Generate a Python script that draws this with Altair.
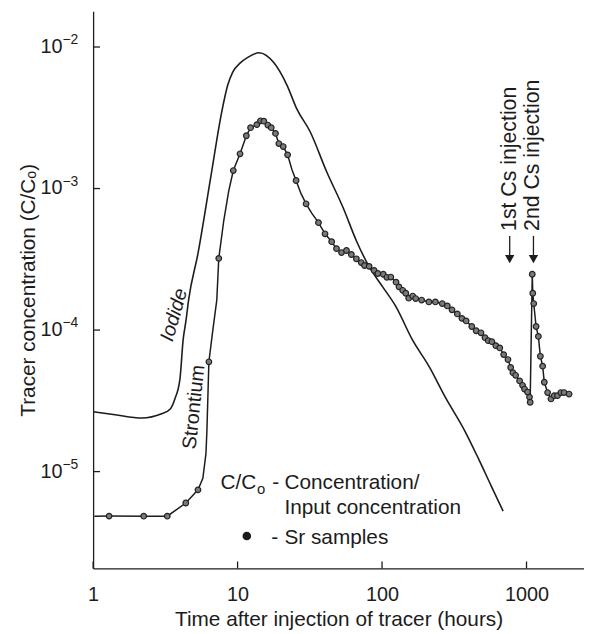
import altair as alt
import pandas as pd

# ---------------- data ----------------
iodide_t = [1.0, 1.42, 2.17, 2.98, 3.42, 3.68, 3.99, 4.20, 4.40, 4.58, 5.32, 6.56, 7.77,
            8.54, 9.24, 10.49, 11.7, 14.1, 17.8, 22.0, 25.7, 31.8, 41.3, 53.8, 66.4,
            81.8, 101, 125, 162, 211, 274, 376, 464, 567, 689]
iodide_c = [2.65e-5, 2.52e-5, 2.39e-5, 2.56e-5, 2.77e-5, 3.26e-5, 4.50e-5, 8.55e-5, 1.18e-4,
            1.63e-4, 3.48e-4, 1.25e-3, 3.48e-3, 5.36e-3, 6.61e-3, 7.76e-3, 8.41e-3, 9.12e-3,
            7.76e-3, 5.36e-3, 3.65e-3, 2.52e-3, 1.32e-3, 7.31e-4, 4.28e-4, 2.78e-4, 2.02e-4,
            1.46e-4, 8.55e-5, 5.56e-5, 3.36e-5, 1.92e-5, 1.24e-5, 8.0e-6, 5.25e-6]

sr_sample_t = [1.29, 2.24, 3.26, 4.38, 5.32, 6.33, 7.41, 9.34, 10.4, 11.5, 12.3, 13.6, 14.4,
               15.2, 16.2, 17.1, 18.3, 19.3, 20.7, 22.2, 25.4, 29.8, 36.3, 40.3, 44.8, 48.4,
               52.4, 56.7, 61.3, 66.4, 71.8, 75.6, 81.4, 88.1, 93.5, 102, 108, 115, 125, 131,
               139, 146, 153, 163, 171, 188, 211, 234, 261, 283, 305, 332, 357, 382, 418, 448,
               484, 516, 543, 576, 613, 653, 695, 744, 777, 805, 841, 896, 939, 969, 1016,
               1049, 1060, 1096, 1105, 1122, 1165, 1208, 1247, 1293, 1328, 1400, 1477, 1556,
               1638, 1729, 1820, 1971]
sr_sample_c = [4.85e-6, 4.84e-6, 4.84e-6, 6.0e-6, 7.43e-6, 5.97e-5, 3.21e-4, 1.34e-3, 1.76e-3,
               2.36e-3, 2.69e-3, 2.83e-3, 3.01e-3, 2.99e-3, 2.81e-3, 2.69e-3, 2.45e-3, 2.08e-3,
               1.98e-3, 1.73e-3, 1.14e-3, 7.80e-4, 5.74e-4, 4.79e-4, 4.21e-4, 3.76e-4, 3.53e-4,
               3.65e-4, 3.42e-4, 3.19e-4, 3.00e-4, 2.86e-4, 2.82e-4, 2.64e-4, 2.51e-4, 2.48e-4,
               2.36e-4, 2.37e-4, 2.18e-4, 2.02e-4, 1.91e-4, 1.82e-4, 1.68e-4, 1.74e-4, 1.67e-4,
               1.63e-4, 1.58e-4, 1.58e-4, 1.54e-4, 1.48e-4, 1.39e-4, 1.30e-4, 1.21e-4, 1.16e-4,
               1.06e-4, 9.89e-5, 9.57e-5, 8.83e-5, 8.41e-5, 8.28e-5, 7.76e-5, 7.48e-5, 6.71e-5,
               6.19e-5, 5.44e-5, 5.00e-5, 4.79e-5, 4.37e-5, 4.07e-5, 3.83e-5, 3.65e-5, 3.36e-5,
               3.09e-5, 2.48e-4, 1.82e-4, 1.54e-4, 1.06e-4, 9.02e-5, 6.53e-5, 5.56e-5, 4.28e-5,
               3.62e-5, 3.26e-5, 3.44e-5, 3.44e-5, 3.62e-5, 3.62e-5, 3.53e-5]

# extra points on the drawn strontium curve that are not samples
sr_curve_t = [1.02, 5.75, 6.04, 6.13, 6.74, 7.18, 8.02, 8.68, 23.8, 27.4, 32.6]
sr_curve_c = [4.84e-6, 8.97e-6, 1.34e-5, 1.91e-5, 1.00e-4, 1.63e-4, 5.92e-4, 9.58e-4,
              1.36e-3, 9.27e-4, 6.71e-4]

x_tick_values = [1, 10, 100, 1000]
y_tick_values = [1e-5, 1e-4, 1e-3, 1e-2]
y_tick_exponents = ["\u22125", "\u22124", "\u22123", "\u22122"]

injection_t = [765, 1117]
injection_labels = ["1st Cs injection", "2nd Cs injection"]

# ---------------- chart ----------------
FONT = "Liberation Sans"
INK = "#1c1c1c"
W, H = 496, 563

xs = alt.Scale(type="log", domain=[1, 2500], nice=False)
ys = alt.Scale(type="log", domain=[2.07e-6, 0.0179], nice=False)

iodide_df = pd.DataFrame({"t": iodide_t, "c": iodide_c})
samples_df = pd.DataFrame({"t": sr_sample_t, "c": sr_sample_c})
sr_line_df = pd.concat([samples_df, pd.DataFrame({"t": sr_curve_t, "c": sr_curve_c})])
sr_line_df = sr_line_df.sort_values("t").reset_index(drop=True)
sr_line_df["order"] = range(len(sr_line_df))

xaxis = alt.Axis(values=x_tick_values, format="d", ticks=False, grid=False,
                 domainColor=INK, domainWidth=1.3, labelFont=FONT, labelFontSize=20,
                 labelColor=INK, labelPadding=16, labelFlush=False,
                 title="Time after injection of tracer (hours)", titleFont=FONT,
                 titleFontSize=21, titleFontWeight="normal", titleColor=INK, titlePadding=5)
yaxis = alt.Axis(values=y_tick_values, labels=False, ticks=False, grid=False,
                 domainColor=INK, domainWidth=1.3,
                 title="Tracer concentration (C/C\u2092)", titleFont=FONT, titleFontSize=21,
                 titleFontWeight="normal", titleColor=INK, titlePadding=55)

X = alt.X("t:Q", scale=xs, axis=xaxis)
Y = alt.Y("c:Q", scale=ys, axis=yaxis)

iodide = alt.Chart(iodide_df).mark_line(color=INK, strokeWidth=1.6, interpolate="monotone").encode(
    x=X, y=Y)

sr_line = alt.Chart(sr_line_df).mark_line(color=INK, strokeWidth=1.5).encode(
    x=X, y=Y, order="order:Q")

sr_pts = alt.Chart(samples_df).mark_point(filled=True, fill="#7a7a7a", stroke="#222222",
                                          strokeWidth=1.2, size=32, opacity=1).encode(x=X, y=Y)

# inward tick marks
xt_df = pd.DataFrame({"t": x_tick_values})
x_ticks = alt.Chart(xt_df).mark_rule(color=INK, strokeWidth=1.3).encode(
    x=X, y=alt.value(H), y2=alt.value(H - 7))
yt_df = pd.DataFrame({"c": y_tick_values, "e": y_tick_exponents})
y_ticks = alt.Chart(yt_df).mark_rule(color=INK, strokeWidth=1.3).encode(
    y=Y, x=alt.value(0), x2=alt.value(7))

# y tick labels 10^n
y_lab_base = alt.Chart(yt_df).mark_text(text="10", align="right", baseline="middle",
                                        font=FONT, fontSize=20, color=INK).encode(
    y=Y, x=alt.value(-31))
y_lab_exp = alt.Chart(yt_df).mark_text(align="left", baseline="middle", dy=-7,
                                       font=FONT, fontSize=14, color=INK).encode(
    y=Y, x=alt.value(-31), text="e:N")

# curve labels
one = pd.DataFrame({"k": [0]})
iod_lab = alt.Chart(one).mark_text(text="Iodide", angle=286, font=FONT, fontSize=20,
                                   fontStyle="italic", color=INK, align="center",
                                   baseline="middle").encode(x=alt.value(82), y=alt.value(307))
sr_lab = alt.Chart(one).mark_text(text="Strontium", angle=276, font=FONT, fontSize=20,
                                  color=INK, align="center",
                                  baseline="middle").encode(x=alt.value(102), y=alt.value(400))

# injection markers
inj_df = pd.DataFrame({"t": injection_t, "label": injection_labels})
inj_text = alt.Chart(inj_df).mark_text(angle=270, align="left", baseline="middle", font=FONT,
                                       fontSize=21.5, color=INK).encode(
    x=X, y=alt.value(222), text="label:N")
inj_rule = alt.Chart(inj_df).mark_rule(color=INK, strokeWidth=1.3).encode(
    x=X, y=alt.value(227), y2=alt.value(247))
inj_head = alt.Chart(inj_df).mark_point(shape="triangle-down", filled=True, fill=INK,
                                        stroke=INK, size=36, opacity=1).encode(
    x=X, y=alt.value(250))

# key text
def txt(s, x, y, size=21, dy=0):
    return alt.Chart(one).mark_text(text=s, align="left", baseline="alphabetic", font=FONT,
                                    fontSize=size, color=INK, dy=dy).encode(
        x=alt.value(x), y=alt.value(y))

key = [
    txt("C/C", 128.7, 482.5),
    txt("o", 165.5, 482.5, size=15, dy=5),
    txt("-", 181, 482.5),
    txt("Concentration/", 193.3, 482.5),
    txt("Input concentration", 193.3, 508),
    txt("-", 180, 538),
    txt("Sr samples", 193.3, 538),
]
key_dot = alt.Chart(one).mark_point(filled=True, fill=INK, stroke=INK, size=45, opacity=1).encode(
    x=alt.value(155.3), y=alt.value(530.3))

chart = alt.layer(
    iodide, sr_line, sr_pts, x_ticks, y_ticks, y_lab_base, y_lab_exp, iod_lab, sr_lab,
    inj_text, inj_rule, inj_head, *key, key_dot,
).properties(
    width=W, height=H,
    autosize=alt.AutoSizeParams(type="none"),
    padding={"left": 86, "top": 0, "right": 0, "bottom": 62},
    background="white",
).configure_view(stroke=None)

chart.save("out.html", embed_options={"renderer": "svg", "actions": False})
